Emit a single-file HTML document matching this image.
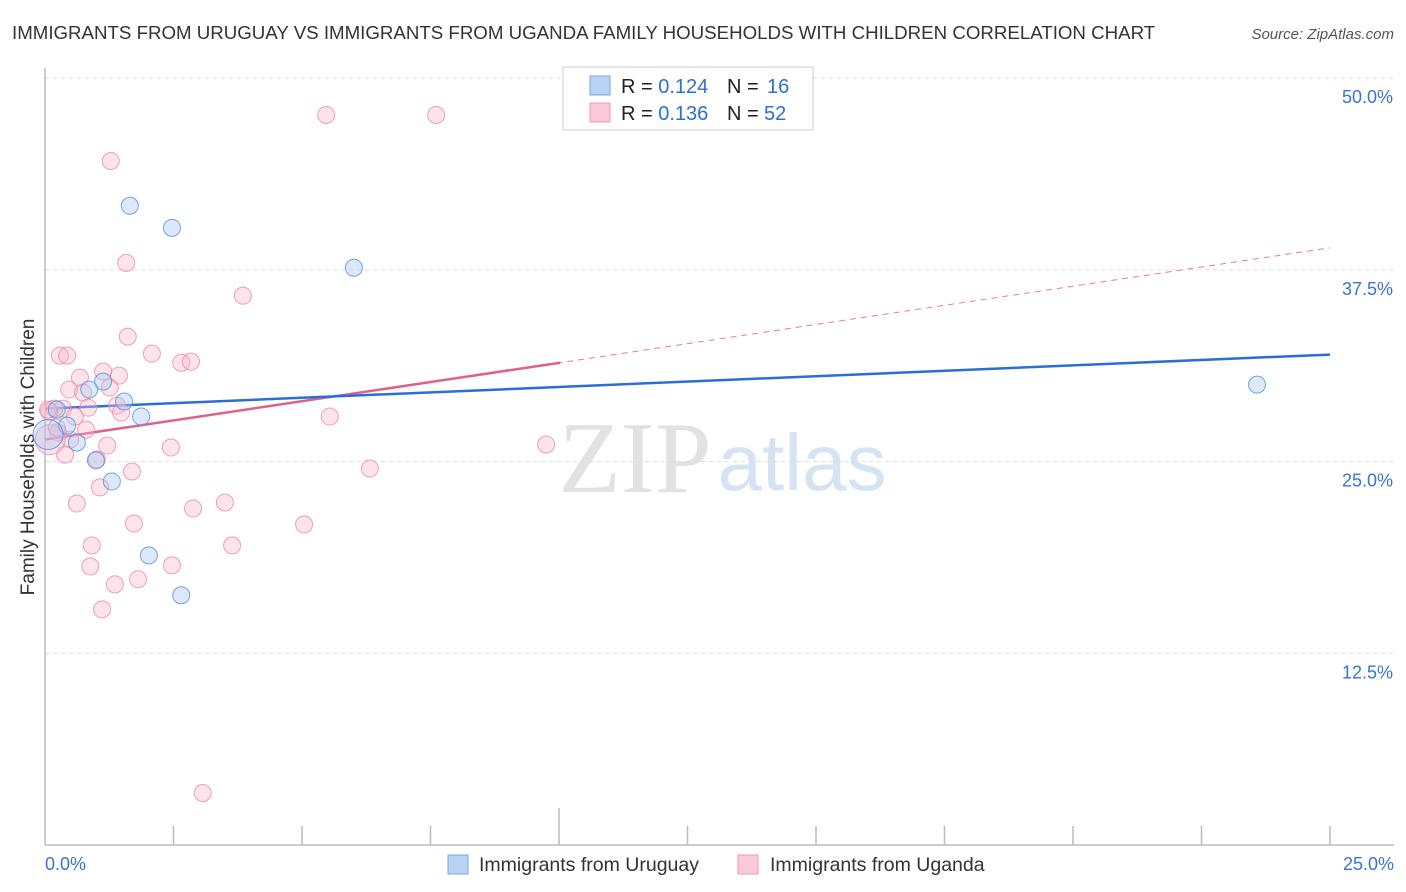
<!DOCTYPE html>
<html><head><meta charset="utf-8"><style>
body{margin:0;background:#fff;font-family:"Liberation Sans",sans-serif;}
svg{display:block}
</style></head><body>
<svg id="chart" width="1406" height="892">
<text x="12" y="39" font-size="18.7" fill="#333">IMMIGRANTS FROM URUGUAY VS IMMIGRANTS FROM UGANDA FAMILY HOUSEHOLDS WITH CHILDREN CORRELATION CHART</text>
<text x="1394" y="39" font-size="15" fill="#555" font-style="italic" text-anchor="end">Source: ZipAtlas.com</text>
<text x="34" y="457" font-size="19" fill="#333" text-anchor="middle" transform="rotate(-90 34 457)">Family Households with Children</text>
<g><text x="635" y="492" font-size="102" fill="#e2e2e2" font-family="Liberation Serif,serif" text-anchor="middle">ZIP</text><text x="802" y="490" font-size="80" fill="#d6e3f3" text-anchor="middle">atlas</text></g>
<g id="grid"></g><g id="axes"></g><g id="trends"></g><g id="points"></g>
<g>
<rect x="563" y="67" width="250" height="63" fill="#fff" stroke="#ccc"/>
<rect x="590" y="76" width="20" height="19" fill="#b9d3f5" stroke="#7aa6e0"/>
<rect x="590" y="103" width="20" height="19" fill="#fcc9d8" stroke="#ec9ab3"/>
<text x="621" y="93" font-size="20" fill="#222">R = <tspan fill="#2e6fd3">0.124</tspan><tspan x="727">N = </tspan><tspan x="767" fill="#2e6fd3">16</tspan></text>
<text x="621" y="120" font-size="20" fill="#222">R = <tspan fill="#2e6fd3">0.136</tspan><tspan x="727">N = </tspan><tspan x="764" fill="#2e6fd3">52</tspan></text>
</g>
<g>
<rect x="448" y="855" width="20" height="19" fill="#b9d3f5" stroke="#7aa6e0"/>
<text x="479" y="871" font-size="19.5" fill="#333">Immigrants from Uruguay</text>
<rect x="738" y="855" width="20" height="19" fill="#fcc9d8" stroke="#ec9ab3"/>
<text x="770" y="871" font-size="19.5" fill="#333">Immigrants from Uganda</text>
</g>
</svg>
<script>
const yTicks=[12.5,25,37.5,50];
const yTickLabels=["12.5%","25.0%","37.5%","50.0%"];
const xTickLabels=["0.0%","25.0%"];
const uruguayX=[1.65,2.47,6.01,23.58,1.13,0.86,1.54,1.87,0.23,0.43,0.62,0.99,1.30,2.02,2.65,0.06];
const uruguayY=[41.67,40.23,37.63,30.01,30.21,29.69,28.91,27.93,28.39,27.34,26.24,25.07,23.70,18.88,16.28,26.76];
const ugandaX=[5.47,7.61,1.28,1.58,3.85,1.61,0.29,0.43,2.08,2.65,2.84,0.68,1.13,1.44,0.47,0.74,1.26,0.35,0.84,1.40,0.18,0.08,1.48,0.58,0.80,5.54,0.25,0.49,1.21,2.45,9.75,0.39,1.01,1.69,6.32,1.07,0.62,2.88,3.50,1.73,5.04,0.91,3.64,0.88,2.47,1.81,1.36,1.11,3.07,0.10,0.06,0.23];
const ugandaY=[47.59,47.59,44.59,37.95,35.81,33.14,31.90,31.90,32.03,31.44,31.51,30.47,30.86,30.60,29.69,29.49,29.82,28.45,28.51,28.64,28.45,28.25,28.19,27.93,27.08,27.93,26.89,26.43,26.04,25.91,26.11,25.45,25.13,24.35,24.54,23.31,22.26,21.94,22.33,20.96,20.90,19.53,19.53,18.16,18.23,17.32,16.99,15.36,3.39,26.43,28.38,27.21];
const uruguayTrend=[28.45,31.97];
const ugandaTrend=[26.43,38.93];
const NS="http://www.w3.org/2000/svg";
const X0=45,X1=1330,Y0=845,YT=78;
const sx=v=>X0+(v/25)*(X1-X0);
const sy=v=>Y0-(v/50)*(Y0-YT);
function mk(tag,attrs,parent){const e=document.createElementNS(NS,tag);for(const k in attrs)e.setAttribute(k,attrs[k]);document.getElementById(parent).appendChild(e);return e;}
yTicks.forEach((t,i)=>{
 const l=mk('line',{x1:X0,x2:1394,y1:sy(t),y2:sy(t),stroke:'#ddd','stroke-dasharray':'4,4'},'grid');
 
 
 const tx=mk('text',{x:1393,y:sy(t)+25,'font-size':18,fill:'#3b73d1','text-anchor':'end'},'grid');
 tx.textContent=yTickLabels[i];
 
 
});
let a=mk('line',{x1:X0,x2:X0,y1:68,y2:Y0,stroke:'#bbb','stroke-width':1.5},'axes');


a=mk('line',{x1:X0,x2:1394,y1:Y0,y2:Y0,stroke:'#bbb','stroke-width':1.5},'axes');


for(let i=1;i<=10;i++){
 const x=sx(i*2.5);
 const t=mk('line',{x1:x,x2:x,y1:i==4?808:826,y2:Y0,stroke:'#bbb','stroke-width':1.5},'axes');
 
 
}
let xl=mk('text',{x:45,y:870,'font-size':18,fill:'#3b73d1'},'axes');xl.textContent=xTickLabels[0];


xl=mk('text',{x:1394,y:870,'font-size':18,fill:'#3b73d1','text-anchor':'end'},'axes');xl.textContent=xTickLabels[1];


function pts(xs,ys,fill,stroke,name){
 xs.forEach((x,i)=>{
  const big=(x<0.15 && Math.abs(ys[i]-26.5)<0.5);
  const c=mk('circle',{cx:sx(x),cy:sy(ys[i]),r:big?15:8.5,fill:fill,'fill-opacity':0.4,stroke:stroke,'stroke-opacity':0.8,'stroke-width':1},'points');
  
  
 });
}
pts(ugandaX,ugandaY,'#f9b8cc','#e88aa8','uganda-point');
pts(uruguayX,uruguayY,'#a9c8f2','#4f8ee0','uruguay-point');
const ugMid=10.02;
let l=mk('line',{x1:sx(0),y1:sy(ugandaTrend[0]),x2:sx(25),y2:sy(ugandaTrend[1]),stroke:'#e8799e','stroke-width':1,'stroke-dasharray':'6,5'},'trends');


l=mk('line',{x1:sx(0),y1:sy(ugandaTrend[0]),x2:sx(ugMid),y2:sy(ugandaTrend[0]+(ugandaTrend[1]-ugandaTrend[0])*ugMid/25),stroke:'#e0608c','stroke-width':2.5},'trends');


l=mk('line',{x1:sx(0),y1:sy(uruguayTrend[0]),x2:sx(25),y2:sy(uruguayTrend[1]),stroke:'#2a6fd6','stroke-width':2.5},'trends');


</script>
</body></html>
